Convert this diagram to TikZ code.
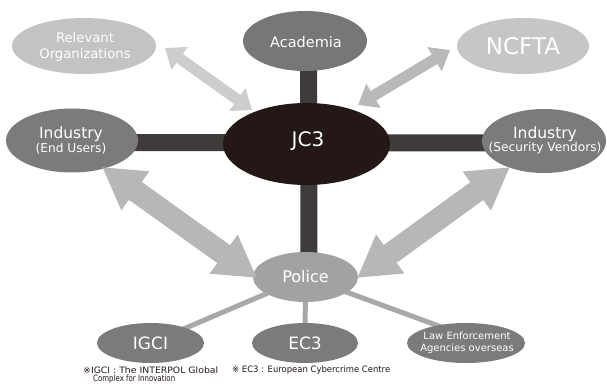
\documentclass[tikz,border=0pt]{standalone}
\usepackage{graphicx}
\usepackage{fontspec}
\setmainfont{DejaVu Sans}
\usetikzlibrary{shapes.geometric,arrows.meta,backgrounds}
\definecolor{cdark}{HTML}{231815}
\definecolor{cbar}{HTML}{3F3B3A}
\definecolor{cmid}{HTML}{7B7B7B}
\definecolor{cacad}{HTML}{777777}
\definecolor{cpol}{HTML}{A2A2A2}
\definecolor{clight}{HTML}{C3C3C3}
\definecolor{cncf}{HTML}{C6C6C6}
\definecolor{carrA}{HTML}{CDCDCD}
\definecolor{carrB}{HTML}{B9B9B9}
\definecolor{carrC}{HTML}{B6B7B6}
\definecolor{cline}{HTML}{A8A8A8}
\tikzset{
  ell/.style={ellipse, draw=none, inner sep=0pt},
  txt/.style={text=white, align=center, inner sep=0pt},
  bar/.style={line width=17pt, draw=cbar},
  pline/.style={line width=5pt, draw=cline},
  smallarrow/.style={line width=11pt, {Triangle[width=27pt,length=18pt]}-{Triangle[width=27pt,length=18pt]}},
  bigarrow/.style={line width=22pt, {Triangle[width=45pt,length=41pt]}-{Triangle[width=45pt,length=41pt]}, draw=carrC, fill=carrC},
  note/.style={text=cdark, align=left, anchor=west, inner sep=0pt, font=\fontsize{8.8}{9}\selectfont}
}
\begin{document}
\begin{tikzpicture}[x=1pt,y=-1pt]
\useasboundingbox (0,0) rectangle (607,390);
% ellipses
\node[ell, fill=clight, minimum width=144pt, minimum height=56pt] (relorg) at (84,46) {};
\node[ell, fill=cacad, minimum width=124pt, minimum height=60pt] (acad) at (305,41) {};
\node[ell, fill=cncf, minimum width=132pt, minimum height=56pt] (ncfta) at (523,46) {};
\node[ell, fill=cdark, minimum width=167pt, minimum height=82pt] (jc3) at (306.5,144) {};
\node[ell, fill=cmid, minimum width=132pt, minimum height=64pt] (eu) at (72,140.5) {};
\node[ell, fill=cmid, minimum width=124pt, minimum height=64pt] (sv) at (544,141) {};
\node[ell, fill=cpol, minimum width=105pt, minimum height=50pt] (police) at (305.5,277) {};
\node[ell, fill=cmid, minimum width=107pt, minimum height=40pt] (igci) at (150.5,343) {};
\node[ell, fill=cmid, minimum width=106pt, minimum height=40pt] (ec3) at (305,343) {};
\node[ell, fill=cmid, minimum width=118pt, minimum height=40pt] (lea) at (466,343) {};
% texts
\node[txt, font=\fontsize{13.2}{16}\selectfont] at (85,46.5) {Relevant\\Organizations};
\node[txt, font=\fontsize{14.5}{17}\selectfont] at (306,42) {Academia};
\node[txt, font=\fontsize{23}{26}\selectfont] at (523,46.5) {NCFTA};
\node[txt, font=\fontsize{20}{23}\selectfont] at (308,141) {JC3};
\node[txt] at (71,140.5) {{\fontsize{15.5}{15}\selectfont Industry}\\{\fontsize{12.2}{15}\selectfont (End Users)}};
\node[txt] at (545,140.5) {{\fontsize{15.5}{15}\selectfont Industry}\\{\fontsize{12.2}{15}\selectfont (Security Vendors)}};
\node[txt, font=\fontsize{16}{19}\selectfont] at (305.5,277) {Police};
\node[txt, font=\fontsize{17}{20}\selectfont] at (150.5,343) {IGCI};
\node[txt, font=\fontsize{17}{20}\selectfont] at (305,343) {EC3};
\node[txt, font=\fontsize{10}{12}\selectfont] at (467,343) {Law Enforcement\\Agencies overseas};
% footnotes
\node[note] (n1) at (83,370.5) {\resizebox{135pt}{\height}{※IGCI : The INTERPOL Global}};
\node[note] (n2) at (93,379.5) {\resizebox{82pt}{\height}{Complex for Innovation}};
\node[note] (n3) at (232,370.5) {\resizebox{158pt}{\height}{※ EC3 : European Cybercrime Centre}};
% arrow end points
\coordinate (a1) at (165,48);
\coordinate (a2) at (252,110);
\coordinate (b1) at (450,50);
\coordinate (b2) at (358,105);
\coordinate (c1) at (102,167);
\coordinate (c2) at (257,278);
\coordinate (d1) at (510,167);
\coordinate (d2) at (357,278);
\begin{pgfonlayer}{background}
  \draw[bar] ([xshift=3.5pt]acad.center) -- ([xshift=3.5pt]police.center);
  \draw[bar] ([yshift=-2pt]eu.center) -- ([yshift=-2pt]sv.center);
  \draw[pline] (police.center) -- (igci.center);
  \draw[pline] (police.center) -- (ec3.center);
  \draw[pline] (police.center) -- ([yshift=7pt]lea.center);
\end{pgfonlayer}
\draw[smallarrow, draw=carrA, fill=carrA] (a1) -- (a2);
\draw[smallarrow, draw=carrB, fill=carrB] (b1) -- (b2);
\draw[bigarrow] (c1) -- (c2);
\draw[bigarrow] (d1) -- (d2);
\end{tikzpicture}
\end{document}
